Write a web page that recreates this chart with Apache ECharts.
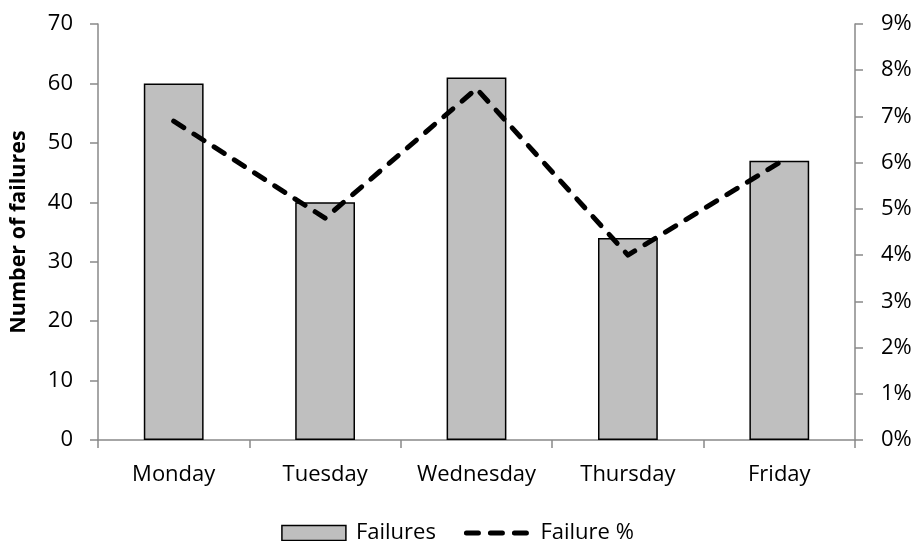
<!DOCTYPE html>
<html>
<head>
<meta charset="utf-8">
<script src="https://cdn.jsdelivr.net/npm/echarts@6/dist/echarts.min.js"></script>
<style>
  html, body { margin: 0; padding: 0; background: #fff; }
  #chart { width: 915px; height: 541px; }
</style>
</head>
<body>
<div id="chart"></div>
<script>
const categories = ['Monday', 'Tuesday', 'Wednesday', 'Thursday', 'Friday'];
const failures = [60, 40, 61, 34, 47];
const failurePct = [0.069, 0.048, 0.076, 0.040, 0.060];
const leftTicks = { min: 0, max: 70, interval: 10 };
const rightTicks = { min: 0, max: 0.09, interval: 0.01 };

const FONT = '"Open Sans", "Noto Sans", sans-serif';
const axisGray = '#898989';
const dashLine = { color: '#000', width: 5, type: [12, 12], cap: 'round', join: 'round' };

const chart = echarts.init(document.getElementById('chart'), null, { renderer: 'canvas' });
chart.setOption({
  animation: false,
  backgroundColor: '#ffffff',
  textStyle: { fontFamily: FONT },
  grid: { left: 96, right: 60, top: 24, bottom: 101, containLabel: false },
  legend: {
    left: 'center',
    top: 517,
    itemWidth: 64,
    itemHeight: 15,
    itemGap: 28,
    textStyle: { fontFamily: FONT, fontSize: 22, color: '#000', padding: [0, 0, 0, 5] },
    data: [
      { name: 'Failures', icon: 'rect', itemStyle: { color: '#BFBFBF', borderColor: '#000', borderWidth: 1.5 } },
      { name: 'Failure %', itemStyle: { color: 'rgba(0,0,0,0)', borderWidth: 0, opacity: 0 }, lineStyle: dashLine }
    ]
  },
  xAxis: {
    type: 'category',
    data: categories,
    boundaryGap: true,
    axisLine: { lineStyle: { color: axisGray, width: 1.5 } },
    axisTick: { show: true, length: 8, lineStyle: { color: axisGray, width: 1.5 } },
    axisLabel: { fontFamily: FONT, fontSize: 22, color: '#000', margin: 24, interval: 0 }
  },
  yAxis: [
    {
      type: 'value',
      min: leftTicks.min, max: leftTicks.max, interval: leftTicks.interval,
      name: 'Number of failures',
      nameLocation: 'middle',
      nameGap: 68,
      nameTextStyle: { fontFamily: FONT, fontSize: 21.5, fontWeight: 'bold', color: '#000' },
      axisLine: { show: true, lineStyle: { color: axisGray, width: 1.5 } },
      axisTick: { show: true, length: 8, lineStyle: { color: axisGray, width: 1.5 } },
      axisLabel: { fontFamily: FONT, fontSize: 22, color: '#000', margin: 25 },
      splitLine: { show: false }
    },
    {
      type: 'value',
      position: 'right',
      min: rightTicks.min, max: rightTicks.max, interval: rightTicks.interval,
      axisLine: { show: true, lineStyle: { color: axisGray, width: 1.5 } },
      axisTick: { show: true, length: 8, lineStyle: { color: axisGray, width: 1.5 } },
      axisLabel: {
        fontFamily: FONT, fontSize: 22, color: '#000', margin: 26,
        formatter: v => Math.round(v * 100) + '%'
      },
      splitLine: { show: false }
    }
  ],
  series: [
    {
      name: 'Failures',
      type: 'bar',
      yAxisIndex: 0,
      data: failures,
      barWidth: '39.5%',
      itemStyle: { color: '#BFBFBF', borderColor: '#000', borderWidth: 1.5 }
    },
    {
      name: 'Failure %',
      type: 'line',
      yAxisIndex: 1,
      data: failurePct,
      symbol: 'none',
      lineStyle: dashLine,
      itemStyle: { color: '#000' }
    }
  ]
});
</script>
</body>
</html>
